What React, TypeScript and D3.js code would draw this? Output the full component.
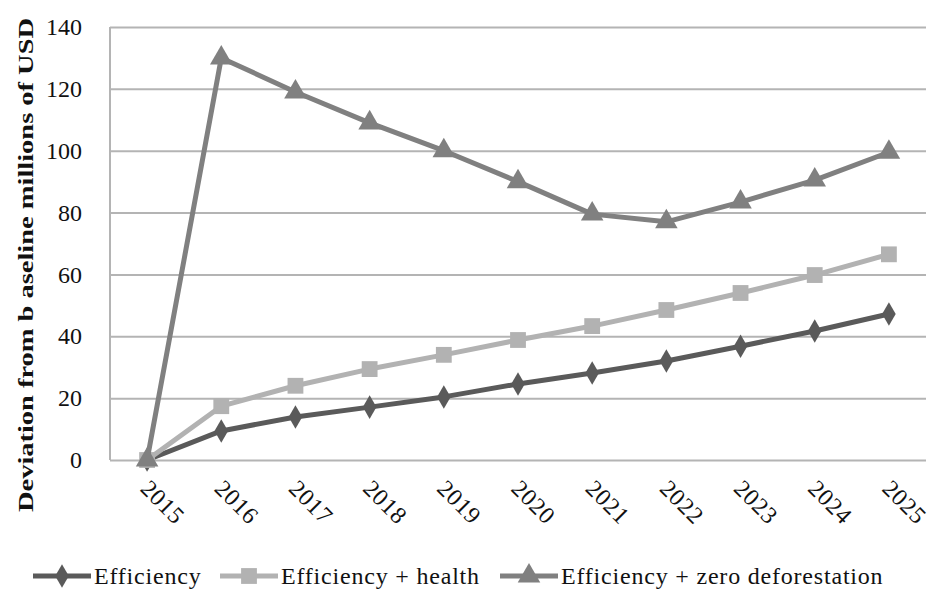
import React, { useEffect, useRef } from "react";
import { axisLeft, line, scaleLinear, scalePoint, select, symbol, symbolDiamond, symbolSquare, symbolTriangle } from "d3";

const years = ["2015", "2016", "2017", "2018", "2019", "2020", "2021", "2022", "2023", "2024", "2025"];
const efficiency = [0, 9.4, 13.9, 17.1, 20.4, 24.6, 28.1, 32, 36.8, 41.7, 47.2];
const efficiencyHealth = [0, 17.4, 24, 29.4, 34, 38.8, 43.3, 48.5, 54, 59.8, 66.5];
const efficiencyZeroDef = [0, 130, 119, 109, 100, 90, 79.5, 77, 83.4, 90.5, 99.5];
const yTicks = [0, 20, 40, 60, 80, 100, 120, 140];

const series = [
  { name: "Efficiency", values: efficiency, color: "#5a5a5a", shape: symbolDiamond, size: 160, legendX: 33 },
  { name: "Efficiency + health", values: efficiencyHealth, color: "#b2b2b2", shape: symbolSquare, size: 250, legendX: 220 },
  { name: "Efficiency + zero deforestation", values: efficiencyZeroDef, color: "#808080", shape: symbolTriangle, size: 220, legendX: 500 }
];

const FONT = "'Liberation Serif', 'Times New Roman', serif";

const App = () => {
  const svgRef = useRef<SVGSVGElement>(null);

  useEffect(() => {
    const svg = select(svgRef.current);
    svg.selectAll("*").remove();

    const left = 110;
    const right = 926;
    const top = 27;
    const bottom = 460;

    const xScale = scalePoint().domain(years).range([left, right]).padding(0.5);
    const yScale = scaleLinear().domain([0, 140]).range([bottom, top]);

    // gridlines + y labels
    const yAxis = axisLeft(yScale).tickValues(yTicks).tickSize(-(right - left)).tickPadding(28);
    const yg = svg.append("g").attr("transform", `translate(${left},0)`).call(yAxis);
    yg.select(".domain").remove();
    yg.selectAll(".tick line").attr("stroke", "#b4b4b4").attr("stroke-width", 2);
    yg.selectAll(".tick text")
      .attr("fill", "#111")
      .style("font-family", FONT)
      .style("font-size", "24px")
      .attr("text-anchor", "end")
      .attr("x", -28);

    // left axis line
    svg.append("line")
      .attr("x1", left).attr("x2", left)
      .attr("y1", top).attr("y2", bottom)
      .attr("stroke", "#b4b4b4").attr("stroke-width", 2);

    // x labels, rotated
    svg.append("g")
      .selectAll("text")
      .data(years)
      .join("text")
      .attr("transform", d => `translate(${(xScale(d) as number) - 2},${bottom + 24}) rotate(45)`)
      .attr("text-anchor", "start")
      .attr("dy", "0.35em")
      .attr("fill", "#111")
      .style("font-family", FONT)
      .style("font-size", "24px")
      .style("letter-spacing", "0.6px")
      .text(d => d);

    // series
    series.forEach(s => {
      const path = line<number>()
        .x((v, i) => xScale(years[i]) as number)
        .y(v => yScale(v));
      svg.append("path")
        .datum(s.values)
        .attr("d", path)
        .attr("fill", "none")
        .attr("stroke", s.color)
        .attr("stroke-width", 5)
        .attr("stroke-linejoin", "round");
      svg.append("g")
        .selectAll("path")
        .data(s.values)
        .join("path")
        .attr("transform", (v, i) => `translate(${xScale(years[i])},${yScale(v)})`)
        .attr("d", symbol().type(s.shape).size(s.size)())
        .attr("fill", s.color);
    });

    // y axis title
    svg.append("text")
      .attr("transform", `translate(33,${(18 + 512) / 2}) rotate(-90)`)
      .attr("text-anchor", "middle")
      .attr("fill", "#111")
      .style("font-family", FONT)
      .style("font-size", "22px")
      .style("font-weight", "bold")
      .attr("textLength", 494)
      .attr("lengthAdjust", "spacingAndGlyphs")
      .text("Deviation from b aseline millions of USD");

    // legend
    const ly = 576;
    const lg = svg.append("g");
    series.forEach(s => {
      lg.append("line")
        .attr("x1", s.legendX).attr("x2", s.legendX + 58)
        .attr("y1", ly).attr("y2", ly)
        .attr("stroke", s.color).attr("stroke-width", 5);
      lg.append("path")
        .attr("transform", `translate(${s.legendX + 29},${ly})`)
        .attr("d", symbol().type(s.shape).size(s.size)())
        .attr("fill", s.color);
      lg.append("text")
        .attr("x", s.legendX + 61)
        .attr("y", ly + 8)
        .attr("fill", "#111")
        .style("font-family", FONT)
        .style("font-size", "24px")
        .style("letter-spacing", "0.8px")
        .text(s.name);
    });
  }, []);

  return (
    <svg
      ref={svgRef}
      width={932}
      height={590}
      style={{ position: "absolute", left: 0, top: 0, background: "#fff" }}
    />
  );
};

export default App;
